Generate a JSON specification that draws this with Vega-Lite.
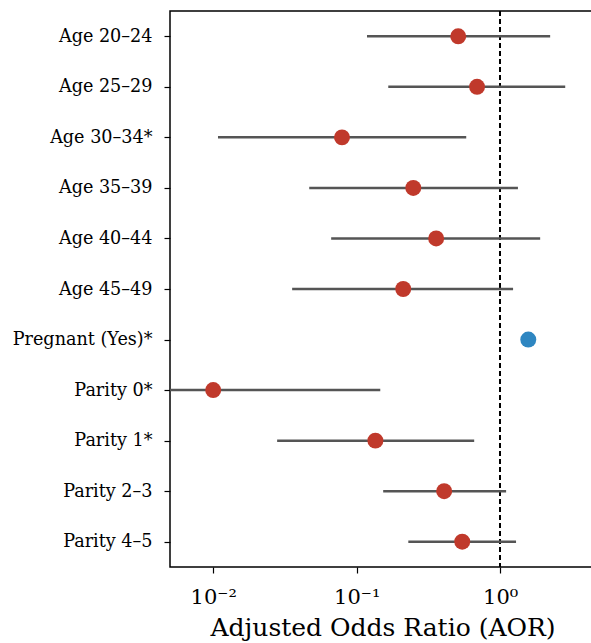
{
  "$schema": "https://vega.github.io/schema/vega-lite/v6.json",
  "autosize": "none",
  "width": 425,
  "height": 556,
  "padding": {"left": 170, "top": 11, "right": 0, "bottom": 76},
  "background": "white",
  "config": {
    "view": {"stroke": "black", "strokeWidth": 1.5},
    "font": "DejaVu Serif"
  },
  "data": {
    "values": [
      {"label": "Age 20–24", "aor": 0.51, "lo": 0.118, "hi": 2.23, "grp": "sig"},
      {"label": "Age 25–29", "aor": 0.69, "lo": 0.166, "hi": 2.84, "grp": "sig"},
      {"label": "Age 30–34*", "aor": 0.079, "lo": 0.0108, "hi": 0.58, "grp": "sig"},
      {"label": "Age 35–39", "aor": 0.248, "lo": 0.0467, "hi": 1.33, "grp": "sig"},
      {"label": "Age 40–44", "aor": 0.358, "lo": 0.0664, "hi": 1.9, "grp": "sig"},
      {"label": "Age 45–49", "aor": 0.211, "lo": 0.0355, "hi": 1.23, "grp": "sig"},
      {"label": "Pregnant (Yes)*", "aor": 1.57, "lo": null, "hi": null, "grp": "pos"},
      {"label": "Parity 0*", "aor": 0.01, "lo": 0.002, "hi": 0.146, "grp": "sig"},
      {"label": "Parity 1*", "aor": 0.135, "lo": 0.0279, "hi": 0.659, "grp": "sig"},
      {"label": "Parity 2–3", "aor": 0.407, "lo": 0.153, "hi": 1.1, "grp": "sig"},
      {"label": "Parity 4–5", "aor": 0.544, "lo": 0.229, "hi": 1.29, "grp": "sig"}
    ]
  },
  "encoding": {
    "y": {
      "field": "label",
      "type": "nominal",
      "sort": ["Age 20–24", "Age 25–29", "Age 30–34*", "Age 35–39", "Age 40–44", "Age 45–49", "Pregnant (Yes)*", "Parity 0*", "Parity 1*", "Parity 2–3", "Parity 4–5"],
      "scale": {"type": "point", "padding": 0.5},
      "axis": {
        "title": null,
        "domain": false,
        "ticks": true,
        "tickSize": 6,
        "tickColor": "black",
        "tickWidth": 1.2,
        "labelFont": "DejaVu Serif",
        "labelFontSize": 17.6,
        "labelColor": "black",
        "labelPadding": 12
      }
    }
  },
  "layer": [
    {
      "mark": {"type": "rule", "color": "black", "strokeDash": [5, 3], "strokeWidth": 1.5},
      "encoding": {"x": {"datum": 1, "type": "quantitative"}, "y": null}
    },
    {
      "mark": {"type": "rule", "color": "#555555", "strokeWidth": 2.5, "clip": true},
      "encoding": {
        "x": {
          "field": "lo",
          "type": "quantitative",
          "scale": {"type": "log", "domain": [0.005, 4.58], "nice": false, "clamp": false},
          "axis": {
            "values": [0.01, 0.1, 1],
            "labelExpr": "datum.value < 0.05 ? '10⁻²' : datum.value < 0.5 ? '10⁻¹' : '10⁰'",
            "grid": false,
            "domain": false,
            "tickSize": 6,
            "tickColor": "black",
            "tickWidth": 1.2,
            "labelFont": "DejaVu Serif",
            "labelFontSize": 21,
            "labelColor": "black",
            "labelPadding": 13,
            "title": "Adjusted Odds Ratio (AOR)",
            "titleFont": "DejaVu Serif",
            "titleFontSize": 25,
            "titleFontWeight": "normal",
            "titleColor": "black",
            "titlePadding": 8
          }
        },
        "x2": {"field": "hi"}
      }
    },
    {
      "mark": {"type": "circle", "opacity": 1, "size": 255},
      "encoding": {
        "x": {"field": "aor", "type": "quantitative"},
        "color": {
          "field": "grp",
          "type": "nominal",
          "scale": {"domain": ["sig", "pos"], "range": ["#c0392b", "#2e86c1"]},
          "legend": null
        }
      }
    }
  ]
}
